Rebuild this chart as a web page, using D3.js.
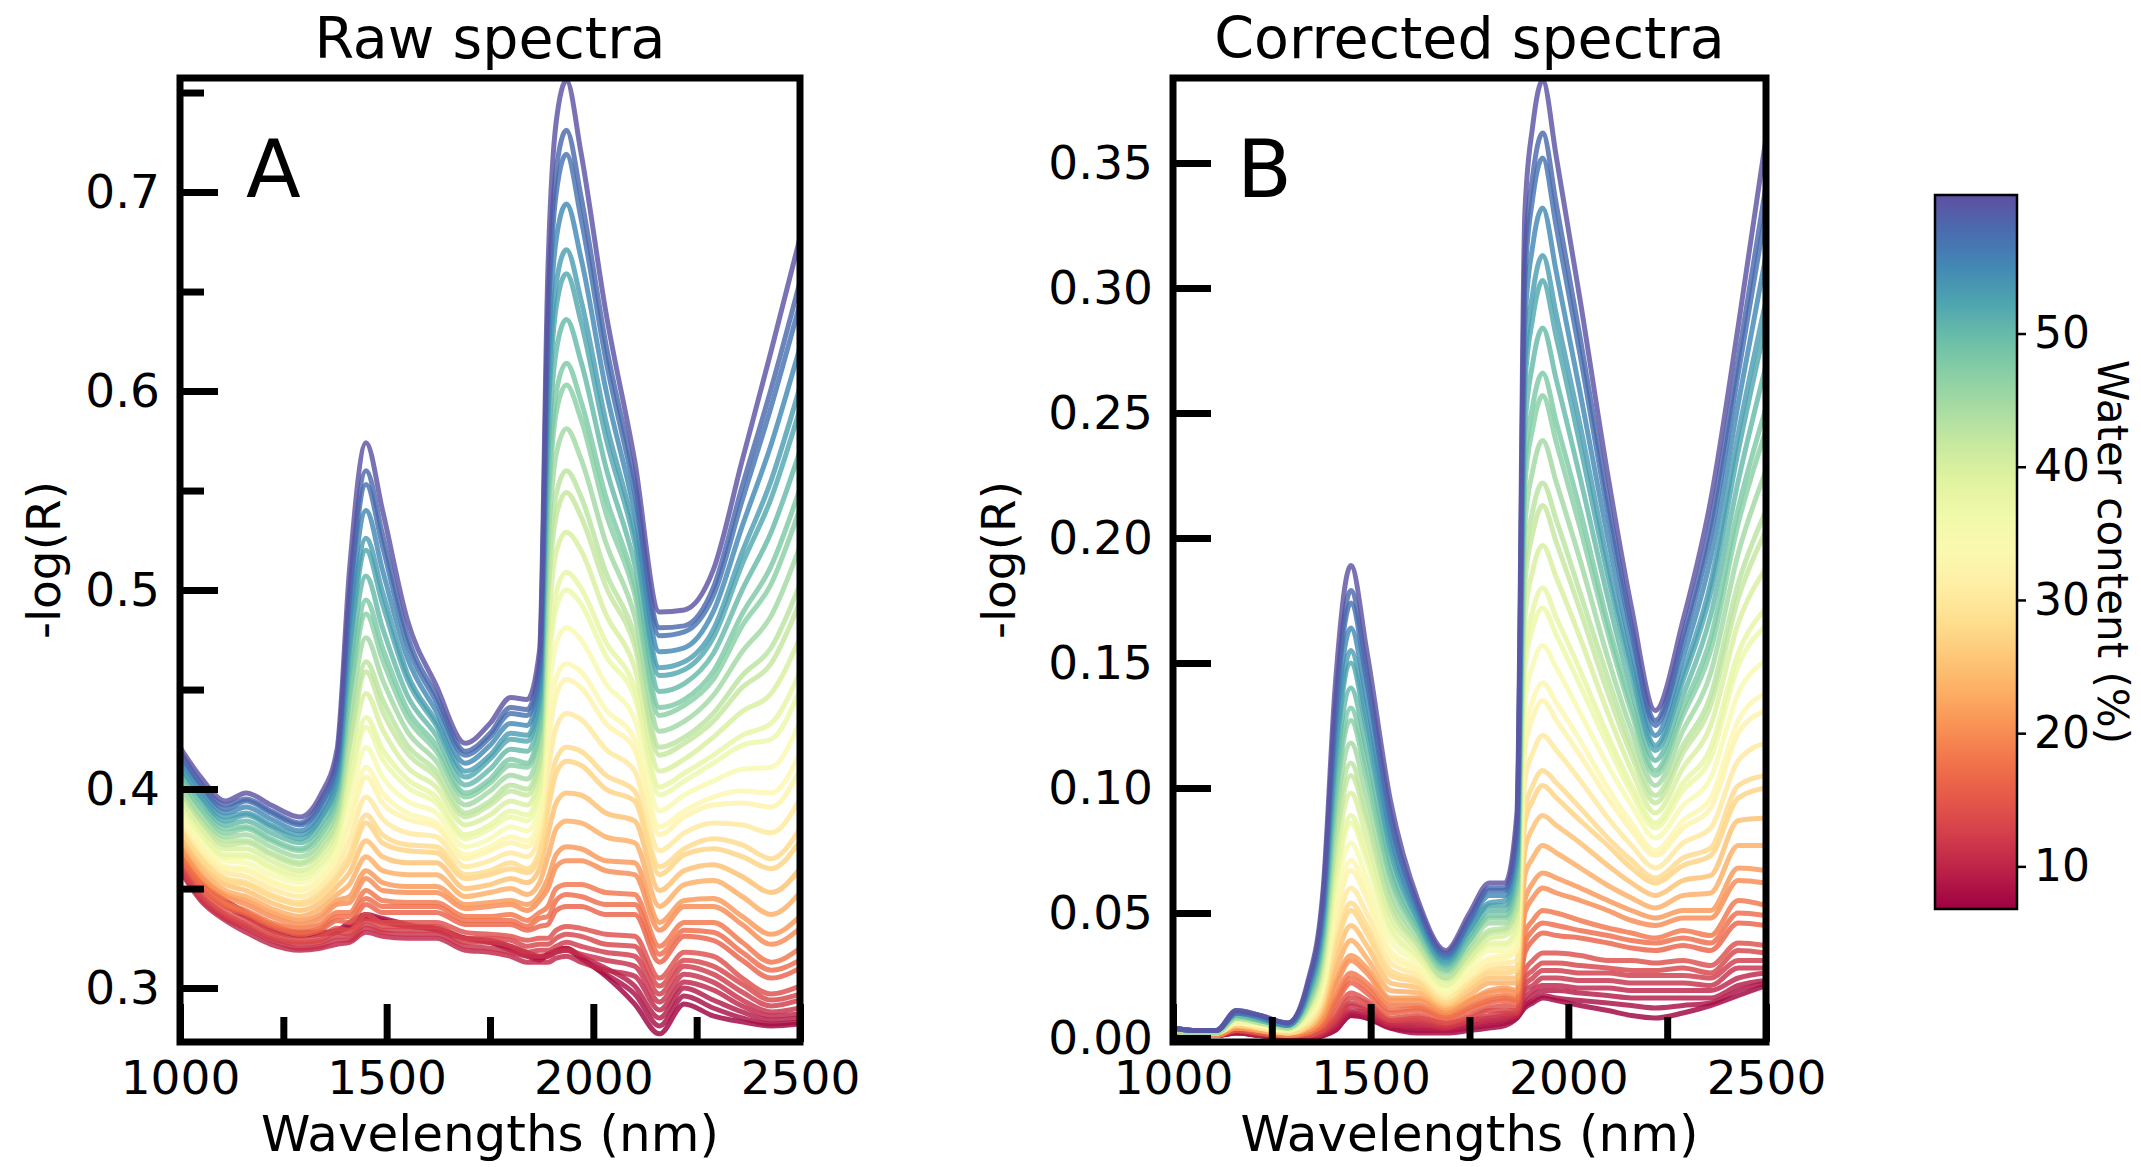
<!DOCTYPE html>
<html>
<head>
<meta charset="utf-8">
<script src="https://cdn.jsdelivr.net/npm/d3@7"></script>
<style>
  html, body { margin: 0; padding: 0; background: #fff; }
  svg text { font-family: "DejaVu Sans", sans-serif; fill: #000; }
</style>
</head>
<body>
<svg id="chart" width="2141" height="1167"></svg>
<script>
// ---- data -------------------------------------------------------------
// Sampling wavelengths (nm)
const wavelengths = [1000,1050,1110,1160,1220,1290,1340,1380,1410,1450,1490,1550,1620,1690,1750,1800,1840,1870,1890,1910,1935,1970,2030,2100,2160,2220,2290,2360,2430,2500];

// Water content of each sample (%)
const waterContent = [7,8,9,10,11,12,13,14,16,17,18,20,21,23,25,27,28,30,32,33,35,37,38,40,42,43,45,47,48,50,52,53,55,57,58,60];

// Raw spectra, -log(R) in thousandths, one row per sample
const rawSpectra = [
  [369,354,344,338,331,328,328,329,333,337,335,332,329,325,323,319,316,314,317,319,320,315,306,292,277,292,286,283,281,282],
  [367,352,342,336,329,326,327,328,331,336,334,331,330,325,323,320,317,315,316,318,319,315,307,297,281,296,290,285,282,283],
  [367,352,341,336,330,327,327,329,330,335,333,331,330,325,324,321,318,316,317,319,320,316,310,301,285,300,294,288,284,285],
  [359,344,334,328,322,319,320,322,323,328,326,325,325,319,318,316,313,313,313,315,316,313,309,306,289,303,299,291,286,287],
  [360,345,335,330,324,320,321,324,324,330,328,327,327,321,320,318,316,316,316,318,319,317,314,311,293,307,303,294,288,290],
  [361,346,336,331,325,322,323,326,326,332,329,329,329,323,323,321,318,319,319,321,323,321,318,316,297,311,307,298,291,294],
  [362,347,337,332,326,323,324,328,327,334,331,331,331,325,325,324,321,322,322,325,327,326,322,321,301,314,311,302,294,297],
  [364,349,338,334,328,324,326,330,329,337,333,333,333,328,327,326,324,325,325,329,331,330,327,326,305,318,316,305,297,301],
  [366,351,341,337,331,327,329,334,333,342,338,338,338,332,332,332,329,331,332,339,341,341,337,337,313,326,324,314,305,310],
  [367,352,342,338,332,328,330,336,336,345,341,341,341,334,334,334,331,335,336,344,347,346,342,342,317,329,328,318,309,314],
  [369,354,343,339,333,330,332,338,338,349,344,343,343,336,336,337,334,338,341,350,352,352,348,347,321,333,333,323,313,320],
  [371,356,346,342,336,332,335,342,343,355,349,348,348,340,341,342,339,344,350,361,364,364,359,357,329,341,341,332,322,330],
  [372,357,347,344,338,334,337,344,346,359,353,351,351,342,343,344,342,347,355,367,371,370,364,363,333,344,345,336,327,336],
  [375,360,349,346,340,336,340,347,352,366,359,357,357,346,348,350,347,353,366,380,384,383,376,373,341,352,354,346,337,348],
  [377,362,352,349,343,339,343,351,358,374,366,363,363,350,352,355,353,360,377,393,398,397,388,384,349,359,362,356,348,360],
  [380,365,354,352,346,342,346,355,364,383,373,369,368,355,357,360,358,366,389,408,414,412,400,394,357,367,370,366,360,374],
  [381,366,355,353,347,343,348,357,367,387,377,372,371,357,359,363,360,369,395,415,421,419,407,399,361,370,375,372,365,380],
  [384,369,358,356,350,346,351,361,374,396,385,378,376,361,364,368,366,376,408,431,438,435,420,409,369,378,383,382,378,395],
  [386,371,360,359,353,349,354,365,382,406,393,385,381,365,369,373,371,382,421,447,455,451,433,420,377,386,392,393,391,410],
  [387,372,361,360,354,350,355,367,385,411,398,388,383,367,371,376,374,385,428,456,463,459,440,425,381,389,396,399,398,418],
  [390,375,364,363,357,353,358,371,393,421,406,394,388,371,375,381,379,391,443,473,481,475,453,435,389,397,404,410,411,434],
  [392,377,366,366,360,355,361,375,401,431,415,401,393,375,380,386,384,398,457,491,500,493,467,446,397,404,413,422,425,450],
  [394,379,367,367,361,357,363,377,405,436,420,405,396,377,382,389,387,401,465,499,509,501,474,451,401,408,417,427,433,459],
  [396,381,370,370,364,359,366,381,414,448,430,411,401,382,387,394,392,407,481,519,529,520,488,461,409,415,426,439,448,476],
  [399,384,372,373,367,362,369,385,422,459,439,418,406,386,392,399,397,413,496,537,549,537,502,472,417,423,434,451,463,494],
  [400,385,374,374,368,363,371,387,426,464,445,422,409,388,394,402,400,416,505,548,560,547,509,477,421,426,438,457,471,503],
  [402,387,376,377,371,366,374,391,435,476,455,429,414,392,399,407,405,423,521,568,581,566,524,487,429,434,447,469,487,522],
  [405,390,378,380,374,369,377,395,445,488,465,436,419,396,403,412,411,429,539,589,603,586,539,498,437,442,455,482,503,541],
  [406,391,380,381,375,370,379,397,449,495,471,440,422,398,405,415,413,432,547,599,614,595,547,503,441,445,459,488,512,551],
  [409,394,382,384,378,373,382,400,459,507,481,447,427,402,410,420,419,438,565,620,636,615,562,513,449,453,468,500,529,570],
  [411,396,384,387,381,375,385,404,469,520,493,455,432,406,415,425,424,445,583,642,659,635,577,524,457,460,476,513,546,591],
  [412,397,386,388,382,377,386,406,474,526,499,458,434,409,417,428,427,448,593,654,671,646,585,529,461,464,480,519,555,602],
  [415,400,388,391,385,379,389,410,484,540,510,466,439,413,422,433,432,454,611,676,694,667,601,539,469,471,489,532,573,622],
  [417,402,390,394,388,382,392,414,494,553,522,473,444,417,426,438,437,460,630,699,719,687,616,549,477,479,497,545,592,644],
  [419,403,392,395,389,383,394,416,499,560,528,477,447,419,428,441,440,464,640,711,731,698,624,555,481,482,501,552,601,655],
  [421,406,394,398,392,386,397,420,510,574,540,485,452,423,433,446,445,470,660,735,756,720,640,565,489,490,510,565,620,677]
];

// Corrected spectra, -log(R) in thousandths, one row per sample
const correctedSpectra = [
  [2,1,1,2,1,0,0,1,3,9,8,4,2,2,3,4,5,8,12,14,16,15,13,11,9,8,10,13,17,21],
  [2,1,1,2,1,0,0,1,3,9,8,4,3,3,4,5,6,8,13,15,17,16,15,14,13,12,13,14,19,22],
  [2,1,1,2,1,0,0,1,4,10,9,5,4,3,5,6,7,9,14,17,19,19,18,17,16,16,16,16,21,23],
  [2,1,1,3,1,0,0,2,5,11,10,5,5,4,6,7,8,9,16,19,21,21,20,20,19,19,19,19,24,26],
  [2,1,1,3,2,0,0,2,6,13,11,6,6,4,7,8,9,10,19,21,24,24,23,23,22,22,22,21,28,28],
  [2,1,1,3,2,1,1,3,7,14,12,7,7,5,7,9,10,10,21,24,27,27,26,26,25,25,25,24,31,31],
  [2,1,1,3,2,1,1,3,8,16,14,7,8,6,8,11,11,11,24,27,30,30,29,28,27,27,28,26,35,34],
  [2,1,1,3,2,1,1,4,10,18,15,8,9,6,9,12,13,12,27,31,34,34,33,31,31,30,31,29,38,37],
  [2,1,1,4,2,1,2,5,13,22,18,10,11,8,11,14,15,14,34,39,42,41,40,38,36,35,37,35,46,45],
  [2,1,1,4,3,1,2,6,14,24,20,11,12,8,12,15,16,15,38,43,46,45,43,41,39,38,40,38,50,49],
  [2,1,1,4,3,1,2,7,16,26,22,13,13,9,13,16,17,16,42,47,51,50,47,44,42,40,43,41,55,53],
  [2,1,1,4,3,1,3,8,20,31,26,15,15,10,15,18,19,18,50,56,60,58,55,51,47,45,48,48,63,62],
  [3,2,2,4,3,2,3,9,22,33,28,16,16,11,15,19,20,19,55,62,66,64,60,55,51,48,51,51,68,67],
  [3,2,2,5,3,2,4,11,26,39,32,19,18,12,17,22,22,22,65,72,77,74,68,61,56,52,57,58,77,77],
  [3,2,2,5,4,2,4,13,30,45,37,22,20,13,19,24,24,24,75,84,89,85,78,69,62,57,63,65,87,88],
  [3,2,2,5,4,2,5,15,35,51,42,25,22,14,21,26,26,27,86,95,101,96,87,77,68,62,69,73,96,100],
  [3,2,2,6,4,2,5,16,37,54,45,27,23,15,22,27,28,28,91,101,107,102,92,80,71,64,72,76,101,105],
  [3,2,2,6,4,3,6,18,42,60,50,30,25,16,23,29,30,31,103,114,121,115,103,88,77,68,78,84,111,118],
  [3,2,2,6,5,3,7,20,47,67,56,33,27,18,25,31,32,35,115,128,135,127,113,96,83,73,84,92,122,131],
  [3,2,2,6,5,3,8,21,50,71,59,35,28,18,26,32,33,36,121,135,142,134,119,100,86,75,87,96,127,138],
  [3,2,2,7,5,3,8,24,56,78,64,39,30,19,28,35,35,39,134,149,157,148,130,109,93,80,93,104,138,151],
  [3,2,2,7,6,3,9,26,61,86,71,43,32,21,30,37,37,43,147,164,172,161,141,117,98,84,99,112,149,165],
  [3,2,2,7,6,4,10,27,64,89,74,45,33,21,31,38,38,45,154,171,180,168,147,121,101,86,102,116,154,172],
  [3,2,2,8,6,4,11,30,70,98,80,49,35,23,32,40,41,48,168,187,197,184,160,130,107,90,108,125,166,188],
  [3,2,2,8,6,4,12,33,76,105,87,53,37,24,34,42,43,52,182,202,213,198,171,138,113,94,114,133,176,203],
  [3,2,2,8,6,4,12,34,80,110,90,55,38,24,35,43,44,54,190,211,222,207,178,144,117,97,117,137,182,211],
  [3,2,2,8,7,4,13,37,86,118,97,59,40,26,37,46,46,58,205,227,239,222,191,152,123,101,123,146,194,227],
  [4,3,3,9,7,5,14,40,93,127,104,64,42,27,39,48,48,62,221,244,257,238,204,162,130,105,129,155,206,243],
  [4,3,3,9,7,5,15,41,96,132,108,66,43,28,39,49,49,64,229,253,266,246,211,166,133,107,132,160,212,252],
  [4,3,3,9,7,5,16,44,103,140,115,70,45,29,41,51,51,68,244,270,284,263,224,176,139,111,137,169,223,269],
  [4,3,3,10,8,5,17,47,110,150,123,75,47,30,43,53,53,72,261,288,303,280,237,185,146,115,143,178,235,286],
  [4,3,3,10,8,5,18,49,114,155,127,78,48,31,44,54,55,74,269,298,313,289,245,190,149,117,146,182,242,295],
  [4,3,3,10,8,5,19,52,121,164,135,82,50,32,46,57,57,79,286,317,332,306,258,200,155,121,152,192,254,313],
  [4,3,3,10,9,6,20,55,128,174,143,87,52,33,47,59,59,83,303,336,352,324,273,210,162,125,158,201,266,331],
  [4,3,3,11,9,6,21,57,132,179,147,90,53,34,48,60,60,85,312,345,362,333,280,215,165,127,161,206,272,341],
  [4,3,3,11,9,6,22,60,140,189,155,95,55,35,50,62,62,90,330,365,383,352,295,225,172,131,167,215,285,360]
];

// Tick values
const xTicksMajor = [1000, 1500, 2000, 2500];
const xTicksMinor = [1250, 1750, 2250];
const rawYMajor = [0.3, 0.4, 0.5, 0.6, 0.7];
const rawYMinor = [0.35, 0.45, 0.55, 0.65, 0.75];
const corrYMajor = [0, 0.05, 0.10, 0.15, 0.20, 0.25, 0.30, 0.35];
const colorbarTicks = [10, 20, 30, 40, 50];
const colorbarDomain = [6.8, 60.4];

// ---- drawing ----------------------------------------------------------
const svg = d3.select("#chart");
svg.append("rect").attr("width", 2141).attr("height", 1167).attr("fill", "#fff");
const defs = svg.append("defs");

const color = d3.scaleSequential(d3.interpolateSpectral).domain(colorbarDomain);

const TICK_W = 7;
function styleAxis(sel, fontSize) {
  sel.attr("font-family", "DejaVu Sans").attr("font-size", fontSize);
  sel.select(".domain").remove();
  sel.selectAll(".tick line").attr("stroke", "#000").attr("stroke-width", TICK_W);
  sel.selectAll(".tick text").attr("fill", "#000");
}

function drawPanel(p) {
  const x = d3.scaleLinear().domain([1000, 2500]).range([p.left, p.right]);
  const y = d3.scaleLinear().domain(p.yDomain).range([p.bottom, p.top]);
  const g = svg.append("g");

  defs.append("clipPath").attr("id", p.id)
    .append("rect").attr("x", p.left).attr("y", p.top)
    .attr("width", p.right - p.left).attr("height", p.bottom - p.top);

  const line = d3.line()
    .x((d, i) => x(wavelengths[i]))
    .y(d => y(d / 1000))
    .curve(d3.curveMonotoneX);

  g.append("g").attr("clip-path", `url(#${p.id})`)
    .selectAll("path").data(p.spectra).join("path")
    .attr("d", line)
    .attr("fill", "none")
    .attr("stroke", (d, i) => color(waterContent[i]))
    .attr("stroke-width", 5)
    .attr("stroke-opacity", 0.82)
    .attr("stroke-linejoin", "round");

  // x axis (ticks point inward)
  g.append("g").attr("transform", `translate(0,${p.bottom})`)
    .call(d3.axisBottom(x).tickValues(xTicksMajor).tickSize(-38).tickPadding(19).tickFormat(d3.format("d")))
    .call(s => styleAxis(s, 47));
  g.append("g").attr("transform", `translate(0,${p.bottom})`)
    .call(d3.axisBottom(x).tickValues(xTicksMinor).tickSize(-25).tickFormat(""))
    .call(s => styleAxis(s, 47));

  // y axis
  g.append("g").attr("transform", `translate(${p.left},0)`)
    .call(d3.axisLeft(y).tickValues(p.yMajor).tickSize(-38).tickPadding(20).tickFormat(p.yFormat))
    .call(s => styleAxis(s, 47));
  if (p.yMinor.length) {
    g.append("g").attr("transform", `translate(${p.left},0)`)
      .call(d3.axisLeft(y).tickValues(p.yMinor).tickSize(-24).tickFormat(""))
      .call(s => styleAxis(s, 47));
  }

  // frame
  g.append("rect").attr("x", p.left).attr("y", p.top)
    .attr("width", p.right - p.left).attr("height", p.bottom - p.top)
    .attr("fill", "none").attr("stroke", "#000").attr("stroke-width", TICK_W);

  // titles and labels
  const cx = (p.left + p.right) / 2;
  g.append("text").attr("x", cx).attr("y", 58).attr("text-anchor", "middle")
    .attr("font-size", 57).text(p.title);
  g.append("text").attr("x", cx).attr("y", 1151).attr("text-anchor", "middle")
    .attr("font-size", 50).text("Wavelengths (nm)");
  g.append("text").attr("transform", `translate(${p.yLabelX},560) rotate(-90)`)
    .attr("text-anchor", "middle").attr("font-size", 47).text("-log(R)");
  g.append("text").attr("x", p.left + p.letterDx).attr("y", 197)
    .attr("font-size", 80).text(p.letter);
}

drawPanel({
  id: "clipRaw", left: 180, right: 800, top: 78, bottom: 1042,
  yDomain: [0.2729, 0.7573], spectra: rawSpectra,
  yMajor: rawYMajor, yMinor: rawYMinor, yFormat: d3.format(".1f"),
  title: "Raw spectra", letter: "A", letterDx: 66, yLabelX: 60
});

drawPanel({
  id: "clipCorr", left: 1173, right: 1766, top: 78, bottom: 1042,
  yDomain: [-0.0016, 0.384], spectra: correctedSpectra,
  yMajor: corrYMajor, yMinor: [], yFormat: d3.format(".2f"),
  title: "Corrected spectra", letter: "B", letterDx: 64, yLabelX: 1015
});

// ---- colour bar -------------------------------------------------------
const cb = { x: 1935, y: 195, w: 82, h: 714 };
const grad = defs.append("linearGradient").attr("id", "cbGrad")
  .attr("x1", 0).attr("y1", 1).attr("x2", 0).attr("y2", 0);
d3.range(0, 1.0001, 0.05).forEach(t => {
  grad.append("stop").attr("offset", t)
    .attr("stop-color", d3.interpolateSpectral(t));
});
svg.append("rect").attr("x", cb.x).attr("y", cb.y).attr("width", cb.w).attr("height", cb.h)
  .attr("fill", "url(#cbGrad)").attr("stroke", "#000").attr("stroke-width", 2.5);

const cy = d3.scaleLinear().domain(colorbarDomain).range([cb.y + cb.h, cb.y]);
svg.append("g").attr("transform", `translate(${cb.x + cb.w},0)`)
  .call(d3.axisRight(cy).tickValues(colorbarTicks).tickSize(9).tickPadding(8).tickFormat(d3.format("d")))
  .call(s => {
    s.attr("font-family", "DejaVu Sans").attr("font-size", 44);
    s.select(".domain").remove();
    s.selectAll(".tick line").attr("stroke", "#000").attr("stroke-width", 2.5);
  });

svg.append("text").attr("transform", `translate(2098,${cb.y + cb.h / 2}) rotate(90)`)
  .attr("text-anchor", "middle").attr("font-size", 42).text("Water content (%)");
</script>
</body>
</html>
